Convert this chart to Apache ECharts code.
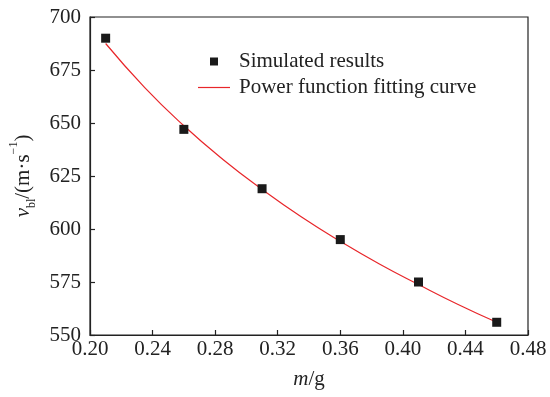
<!DOCTYPE html>
<html><head><meta charset="utf-8">
<script src="https://cdn.jsdelivr.net/npm/echarts@6/dist/echarts.min.js"></script>
<style>html,body{margin:0;padding:0;background:#fff}#c{width:550px;height:397px}</style>
</head><body><div id="c"></div>
<script>
var massG = [0.21, 0.26, 0.31, 0.36, 0.41, 0.46];
var velSim = [690, 647, 619, 595, 575, 556];
var fitM = [0.21, 0.235, 0.26, 0.285, 0.31, 0.335, 0.36, 0.385, 0.41, 0.435, 0.46];
var fitV = [687.5, 666.7, 648.7, 632.8, 618.7, 605.8, 594.2, 583.5, 573.8, 564.5, 556];
var xTicks = ['0.20','0.24','0.28','0.32','0.36','0.40','0.44','0.48'];

var font = 'Liberation Serif';
var txt = '#222';
var fs = 21;
var chart = echarts.init(document.getElementById('c'), null, {renderer:'canvas'});
chart.setOption({
  animation:false,
  textStyle:{fontFamily:font},
  grid:{left:89, right:22, top:17, bottom:62, show:true, borderColor:'#222', borderWidth:1.2, backgroundColor:'transparent'},
  legend:{
    orient:'vertical', left:198, top:51, padding:0, itemWidth:32, itemHeight:8, itemGap:5,
    textStyle:{fontFamily:font, fontSize:fs, color:txt, padding:[0,0,0,4]},
    data:[
      {name:'Simulated results', icon:'path://M0,0L10,0L10,10L0,10Z', itemStyle:{color:'#1a1a1a', opacity:1}},
      {name:'Power function fitting curve', icon:'path://M0,0L32,0L32,1.2L0,1.2Z', itemStyle:{color:'#e8262a'}}
    ]
  },
  xAxis:{
    type:'value', min:0.20, max:0.48, interval:0.04,
    name:'{i|m}{n|/g}', nameLocation:'middle', nameGap:34,
    nameTextStyle:{rich:{i:{fontFamily:font,fontSize:fs,fontStyle:'italic',color:txt},n:{fontFamily:font,fontSize:fs,color:txt}}},
    axisLine:{lineStyle:{color:'#222', width:1.2}},
    axisTick:{inside:true, length:5, lineStyle:{color:'#222', width:1.2}},
    axisLabel:{fontFamily:font, fontSize:fs, color:txt, margin:4,
      formatter:function(v){var i=Math.round((v-0.20)/0.04); return xTicks[i];}},
    splitLine:{show:false}
  },
  yAxis:{
    type:'value', min:550, max:700, interval:25,
    name:'{i|v}{sub|bl}{n|/(m·s}{sup|−1}{n|)}', nameLocation:'middle', nameRotate:90, nameGap:52,
    nameTextStyle:{rich:{
      i:{fontFamily:font,fontSize:fs,fontStyle:'italic',color:txt,lineHeight:24},
      sub:{fontFamily:font,fontSize:12,color:txt,verticalAlign:'bottom',lineHeight:18},
      n:{fontFamily:font,fontSize:fs,color:txt,lineHeight:24},
      sup:{fontFamily:font,fontSize:12,color:txt,verticalAlign:'top',lineHeight:30}
    }},
    axisLine:{show:true, lineStyle:{color:'#222', width:1.2}},
    axisTick:{show:true, inside:true, length:5, lineStyle:{color:'#222', width:1.2}},
    axisLabel:{fontFamily:font, fontSize:fs, color:txt, margin:9},
    splitLine:{show:false}
  },
  series:[
    {name:'Power function fitting curve', type:'line', smooth:true, symbol:'none',
     lineStyle:{color:'#e8262a', width:1.2}, itemStyle:{color:'#e8262a'},
     data:fitM.map(function(m,i){return [m, fitV[i]];}), z:2},
    {name:'Simulated results', type:'scatter', symbol:'rect', symbolSize:9,
     itemStyle:{color:'#1a1a1a', opacity:1},
     data:massG.map(function(m,i){return [m, velSim[i]];}), z:3}
  ]
});
</script></body></html>
